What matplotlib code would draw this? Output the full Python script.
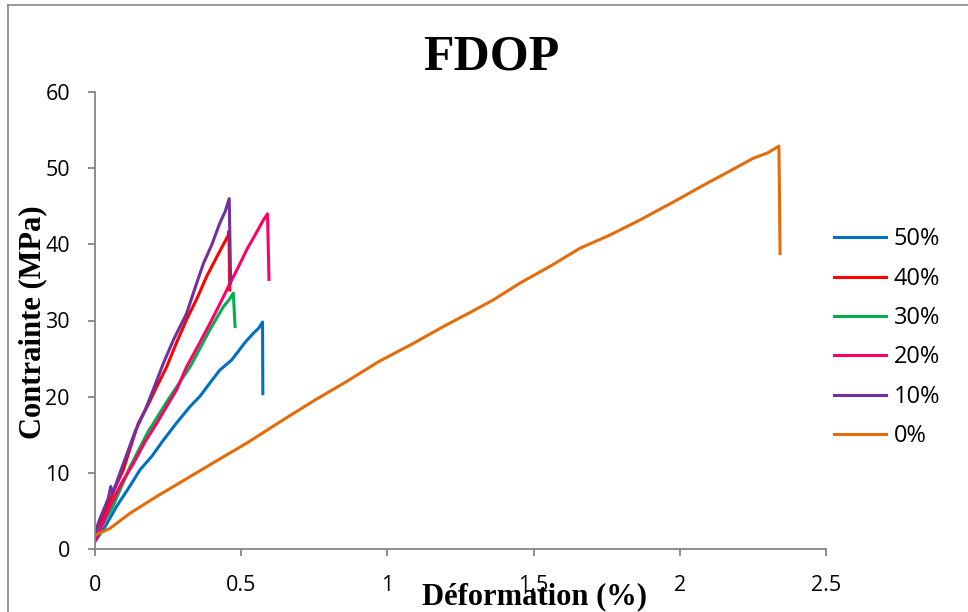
import matplotlib
matplotlib.use("Agg")
import matplotlib.pyplot as plt
from matplotlib import font_manager
from matplotlib.lines import Line2D

# ──────────────────────────────────────────────
# Données (déformation %, contrainte MPa)
# ──────────────────────────────────────────────
labels = ["50%", "40%", "30%", "20%", "10%", "0%"]
colors = ["#0070C0", "#FF0000", "#00B050", "#FF0066", "#7030A0", "#E46C0A"]

x_50 = [0.0, 0.034, 0.074, 0.115, 0.154, 0.195, 0.234, 0.280, 0.325, 0.360, 0.393, 0.427,
        0.467, 0.485, 0.515, 0.541, 0.560, 0.573, 0.574]
y_50 = [1.0, 2.9, 5.6, 8.0, 10.4, 12.2, 14.3, 16.6, 18.7, 20.1, 21.8, 23.5,
        24.8, 25.7, 27.2, 28.3, 29.0, 29.8, 20.4]

x_40 = [0.0, 0.025, 0.051, 0.075, 0.097, 0.125, 0.148, 0.180, 0.211, 0.245, 0.280, 0.313,
        0.350, 0.382, 0.420, 0.456, 0.458, 0.461]
y_40 = [1.4, 4.0, 6.4, 8.6, 10.4, 13.8, 16.5, 18.8, 21.3, 23.9, 27.2, 30.1,
        33.0, 35.8, 38.6, 41.2, 41.7, 34.0]

x_30 = [0.0, 0.030, 0.060, 0.120, 0.180, 0.250, 0.325, 0.360, 0.393, 0.439, 0.460, 0.473, 0.479]
y_30 = [1.7, 3.5, 5.5, 10.8, 15.3, 19.6, 23.9, 26.4, 28.8, 31.8, 32.8, 33.6, 29.2]

x_20 = [0.0, 0.025, 0.051, 0.090, 0.131, 0.170, 0.211, 0.279, 0.313, 0.350, 0.393, 0.430,
        0.462, 0.490, 0.519, 0.550, 0.576, 0.590, 0.595]
y_20 = [1.0, 3.2, 5.6, 8.6, 11.2, 14.0, 16.5, 20.9, 23.9, 26.5, 29.6, 32.4,
        34.9, 37.0, 39.3, 41.4, 43.2, 44.0, 35.4]

x_10 = [0.0, 0.015, 0.029, 0.045, 0.054, 0.060, 0.080, 0.097, 0.137, 0.171, 0.200, 0.234,
        0.270, 0.313, 0.345, 0.371, 0.400, 0.427, 0.445, 0.459, 0.464]
y_10 = [2.1, 3.8, 5.1, 6.6, 8.2, 7.3, 9.4, 11.2, 15.4, 18.2, 21.0, 24.4,
        27.6, 30.9, 34.6, 37.5, 40.0, 42.8, 44.3, 46.0, 34.9]

x_0 = [0.0, 0.051, 0.120, 0.211, 0.325, 0.439, 0.519, 0.633, 0.750, 0.861, 0.970, 1.089,
       1.191, 1.280, 1.362, 1.453, 1.560, 1.659, 1.760, 1.864, 1.980, 2.092, 2.170,
       2.251, 2.300, 2.339, 2.343]
y_0 = [1.8, 2.7, 4.7, 6.9, 9.5, 12.1, 13.9, 16.7, 19.5, 22.0, 24.6, 27.0,
       29.2, 31.0, 32.7, 34.9, 37.2, 39.5, 41.2, 43.2, 45.6, 48.0, 49.6,
       51.3, 52.0, 52.9, 38.8]

series_x = [x_50, x_40, x_30, x_20, x_10, x_0]
series_y = [y_50, y_40, y_30, y_20, y_10, y_0]

x_ticks = [0, 0.5, 1, 1.5, 2, 2.5]
x_tick_labels = ["0", "0.5", "1", "1.5", "2", "2.5"]
y_ticks = [0, 10, 20, 30, 40, 50, 60]


def pick_font(cands):
    for name in cands:
        try:
            font_manager.findfont(name, fallback_to_default=False)
            return name
        except Exception:
            continue
    return "DejaVu Sans"


SANS = pick_font(["Liberation Sans Narrow", "Open Sans", "Liberation Sans"])
SERIF = "Liberation Serif"
GREY = "#868686"

fig = plt.figure(figsize=(9.68, 6.12), dpi=100)
ax = fig.add_axes([95 / 968, 1 - 549 / 612, (826 - 95) / 968, (549 - 92) / 612])

for xs, ys, c, lab in zip(series_x, series_y, colors, labels):
    ax.plot(xs, ys, color=c, linewidth=2.2, label=lab, solid_joinstyle="round")

ax.set_xlim(0, 2.5)
ax.set_ylim(0, 60)
ax.set_xticks(x_ticks)
ax.set_xticklabels(x_tick_labels)
ax.set_yticks(y_ticks)

for side in ["top", "right"]:
    ax.spines[side].set_visible(False)
for side in ["left", "bottom"]:
    ax.spines[side].set_color(GREY)
    ax.spines[side].set_linewidth(1.3)

ax.tick_params(axis="both", colors=GREY, width=1.3, length=5, labelcolor="black",
               labelsize=15.5)
ax.tick_params(axis="y", pad=13)
ax.tick_params(axis="x", pad=14)
for t in ax.get_xticklabels() + ax.get_yticklabels():
    t.set_fontfamily(SANS)

fig.text(491 / 968, 1 - 57 / 612, "FDOP", ha="center", va="center",
         fontsize=36, fontweight="bold", family=SERIF)
fig.text(535 / 968, 1 - 597 / 612, "Déformation (%)", ha="center", va="center",
         fontsize=22, fontweight="bold", family=SERIF)
fig.text(33 / 968, 1 - 322 / 612, "Contrainte (MPa)", ha="center", va="center",
         rotation=90, fontsize=22, fontweight="bold", family=SERIF)

leg = ax.legend(loc="upper left", bbox_to_anchor=(825 / 968, 1 - 218 / 612),
                bbox_transform=fig.transFigure, frameon=False,
                prop={"family": SANS, "size": 17}, handlelength=2.2,
                handletextpad=0.3, labelspacing=0.65, borderaxespad=0)

# cadre gris de la figure (haut et gauche)
fig.add_artist(Line2D([8 / 968, 8 / 968], [0, 1 - 5 / 612], color=GREY, linewidth=1.2,
                      transform=fig.transFigure))
fig.add_artist(Line2D([8 / 968, 1], [1 - 5 / 612, 1 - 5 / 612], color=GREY, linewidth=1.2,
                      transform=fig.transFigure))

fig.savefig("out.png", dpi=100)
